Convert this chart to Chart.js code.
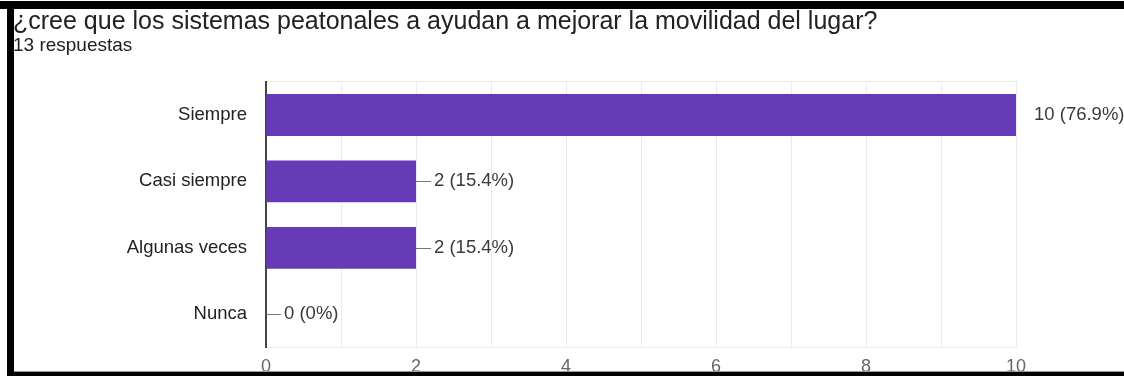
<!DOCTYPE html>
<html lang="es">
<head>
<meta charset="utf-8">
<title>Sistemas peatonales</title>
<script src="https://cdn.jsdelivr.net/npm/chart.js@4/dist/chart.umd.min.js"></script>
<style>
  html, body { margin: 0; padding: 0; background: #fff; }
  #frame { position: relative; width: 1124px; height: 376px; overflow: hidden; background: #fff; }
  #frame canvas { position: absolute; left: 0; top: 0; }
  .band { position: absolute; background: #000; }
  #bandTop { left: 0; top: 1px; width: 1124px; height: 8px; }
  #bandLeft { left: 7px; top: 1px; width: 7px; height: 375px; }
  #lineBottom { position: absolute; left: 14px; top: 371px; width: 1110px; height: 1px; background: #9a9a9a; }
  #bandBottom { left: 7px; top: 372px; width: 1117px; height: 4px; }
</style>
</head>
<body>
<div id="frame">
  <canvas id="chart" width="1124" height="390"></canvas>
  <div class="band" id="bandTop"></div>
  <div class="band" id="bandLeft"></div>
  <div id="lineBottom"></div>
  <div class="band" id="bandBottom"></div>
</div>
<script>
// Survey question, number of respondents and answer counts
const question = '¿cree que los sistemas peatonales a ayudan a mejorar la movilidad del lugar?';
const responses = 13;
const categories = ['Siempre', 'Casi siempre', 'Algunas veces', 'Nunca'];
const counts = [10, 2, 2, 0];
const xTickValues = [0, 2, 4, 6, 8, 10];

const FONT = "'Liberation Sans', Arial, sans-serif";

function pctText(v) {
  const s = ((v / responses) * 100).toFixed(1);
  return s.endsWith('.0') ? s.slice(0, -2) : s;
}

// Value annotations: a short stem from the bar end, then "n (p%)"
const annotations = {
  id: 'annotations',
  afterDatasetsDraw(chart) {
    const { ctx, chartArea } = chart;
    const meta = chart.getDatasetMeta(0);
    meta.data.forEach((bar, i) => {
      const v = counts[i];
      const x = bar.x;
      const y = bar.y;
      // stem is clipped to the plot area
      ctx.save();
      ctx.beginPath();
      ctx.rect(chartArea.left, chartArea.top, chartArea.right - chartArea.left, chartArea.bottom - chartArea.top);
      ctx.clip();
      ctx.strokeStyle = '#777';
      ctx.lineWidth = 1;
      ctx.beginPath();
      ctx.moveTo(x, Math.round(y) + 0.5);
      ctx.lineTo(x + 15, Math.round(y) + 0.5);
      ctx.stroke();
      ctx.restore();

      ctx.save();
      ctx.fillStyle = '#3a3a3a';
      ctx.font = '18.5px ' + FONT;
      ctx.textAlign = 'left';
      ctx.textBaseline = 'middle';
      ctx.fillText(v + ' (' + pctText(v) + '%)', x + 18, y);
      ctx.restore();
    });
  }
};

new Chart(document.getElementById('chart'), {
  type: 'bar',
  data: {
    labels: categories,
    datasets: [{
      data: counts,
      backgroundColor: '#673ab7',
      borderWidth: 0,
      barPercentage: 0.63,
      categoryPercentage: 1.0
    }]
  },
  options: {
    indexAxis: 'y',
    responsive: false,
    animation: false,
    events: [],
    layout: { padding: { left: 13, right: 108, top: 0, bottom: 3 } },
    plugins: {
      legend: { display: false },
      tooltip: { enabled: false },
      title: {
        display: true,
        text: question,
        align: 'start',
        color: '#202124',
        font: { family: FONT, size: 25, weight: 'normal' },
        padding: { top: 7, bottom: -3 }
      },
      subtitle: {
        display: true,
        text: responses + ' respuestas',
        align: 'start',
        color: '#202124',
        font: { family: FONT, size: 19, weight: 'normal' },
        padding: { top: 0, bottom: 25 }
      }
    },
    scales: {
      x: {
        type: 'linear',
        position: 'bottom',
        min: 0,
        max: 10,
        afterBuildTicks(scale) {
          scale.ticks = [];
          for (let v = scale.min; v <= scale.max; v += 1) scale.ticks.push({ value: v });
        },
        ticks: {
          padding: 9,
          color: '#666',
          font: { family: FONT, size: 18 },
          maxRotation: 0,
          autoSkip: false,
          callback: (v) => (xTickValues.includes(v) ? String(v) : '')
        },
        grid: { color: '#ebebeb', lineWidth: 1, drawTicks: false },
        border: { color: '#ebebeb', width: 1 }
      },
      xTop: {
        type: 'linear',
        position: 'top',
        min: 0,
        max: 10,
        ticks: { display: false },
        grid: { display: false, drawTicks: false },
        border: { display: true, color: '#ebebeb', width: 1 }
      },
      y: {
        ticks: {
          padding: 19,
          color: '#222',
          font: { family: FONT, size: 18.5 }
        },
        grid: { display: false, drawTicks: false },
        border: { color: '#444', width: 2 },
        afterFit(scale) { scale.width = 253; }
      }
    }
  },
  plugins: [annotations]
});
</script>
</body>
</html>
